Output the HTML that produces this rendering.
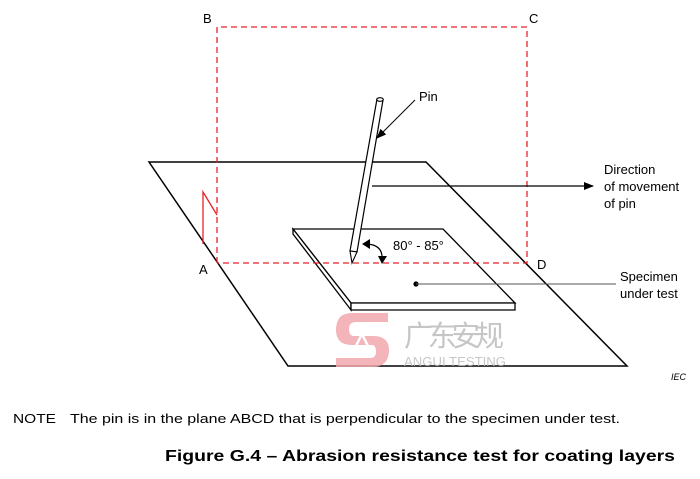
<!DOCTYPE html>
<html><head><meta charset="utf-8"><style>
html,body{margin:0;padding:0;background:#fff;}
svg{display:block;font-family:"Liberation Sans",Arial,sans-serif;}
</style></head><body>
<svg width="700" height="479" viewBox="0 0 700 479" xmlns="http://www.w3.org/2000/svg">
<defs>
<marker id="ah" markerWidth="10" markerHeight="8" refX="9" refY="4" orient="auto" markerUnits="userSpaceOnUse"><path d="M0,0 L10,4 L0,8 Z" fill="#000"/></marker>
</defs>
<!-- base plane -->
<polygon points="149,162 426,162 627,366 288,366" fill="none" stroke="#000" stroke-width="1.5"/>
<!-- specimen -->
<polygon points="293,229 443,229 515,303 351,303" fill="#fff" stroke="#000" stroke-width="1.3"/>
<polygon points="293,229 293,234 351,310 351,303" fill="#fff" stroke="#000" stroke-width="1.3"/>
<polygon points="351,303 515,303 515,310 351,310" fill="#fff" stroke="#000" stroke-width="1.3"/>
<!-- red dashed plane -->
<path d="M217,263 L217,27 L527,27 L527,263 L217,263" fill="none" stroke="#e8232a" stroke-width="1.3" stroke-dasharray="6,4"/>
<path d="M203,244 L203,192 L217,215" fill="none" stroke="#e8232a" stroke-width="1.3"/>
<!-- watermark -->
<g opacity="0.85">
<path d="M388,313 L352,313 Q336,313 336,330 Q336,345 352,345 L372,345 Q376,345 376,352 Q376,358 370,358 L336,358 L336,367 L372,367 Q389,367 389,350 Q389,336 373,336 L354,336 Q349,336 349,329 Q349,322 356,322 L388,322 Z" fill="#f2a9ad"/>
<path d="M356,346 L362,334 L368,346" fill="none" stroke="#fff" stroke-width="2.5"/>
<text x="404" y="346" font-family="'Noto Sans CJK SC',sans-serif" font-size="29" fill="#bdbdbd" textLength="100">广东安规</text>
<text x="404" y="366" font-size="13" fill="#bdbdbd" textLength="102" lengthAdjust="spacingAndGlyphs">ANGUI TESTING</text>
</g>
<!-- direction line -->
<line x1="372" y1="186" x2="593" y2="186" stroke="#000" stroke-width="1.2" marker-end="url(#ah)"/>
<!-- pin -->
<polygon points="377,99 383,100 357,252 350,251" fill="#fff" stroke="#000" stroke-width="1.2"/>
<ellipse cx="380" cy="99.5" rx="3.3" ry="1.8" fill="#fff" stroke="#000" stroke-width="1.1"/>
<polygon points="350,251 357,252 352,263" fill="#fff" stroke="#000" stroke-width="1.1"/>
<!-- pin label arrow -->
<line x1="415" y1="100" x2="377" y2="138" stroke="#000" stroke-width="1" marker-end="url(#ah)"/>
<text x="419" y="101" font-size="13">Pin</text>
<!-- angle arrow -->
<path d="M365,244 Q381,244 382,256" fill="none" stroke="#000" stroke-width="1.2"/>
<path d="M362,244 L370,239 L370,249 Z" fill="#000"/>
<path d="M378,256 L387,256 L382,264 Z" fill="#000"/>
<text x="393" y="250" font-size="13">80° - 85°</text>
<!-- specimen label -->
<circle cx="416" cy="284" r="2.6" fill="#000"/>
<line x1="416" y1="284" x2="616" y2="284" stroke="#555" stroke-width="1"/>
<text x="620" y="281" font-size="13">Specimen</text>
<text x="620" y="298" font-size="13">under test</text>
<text x="604" y="174" font-size="13">Direction</text>
<text x="604" y="191" font-size="13">of movement</text>
<text x="604" y="208" font-size="13">of pin</text>
<!-- letters -->
<text x="203" y="23" font-size="13">B</text>
<text x="529" y="23" font-size="13">C</text>
<text x="199" y="274" font-size="13">A</text>
<text x="537" y="269" font-size="13">D</text>
<text x="671" y="380" font-size="9" font-style="italic">IEC</text>
<text x="13" y="423" font-size="13" textLength="43" lengthAdjust="spacingAndGlyphs">NOTE</text>
<text x="70" y="423" font-size="13" textLength="550" lengthAdjust="spacingAndGlyphs">The pin is in the plane ABCD that is perpendicular to the specimen under test.</text>
<text x="165" y="461" font-size="16" font-weight="bold" textLength="510" lengthAdjust="spacingAndGlyphs">Figure G.4 – Abrasion resistance test for coating layers</text>
</svg>
</body></html>
